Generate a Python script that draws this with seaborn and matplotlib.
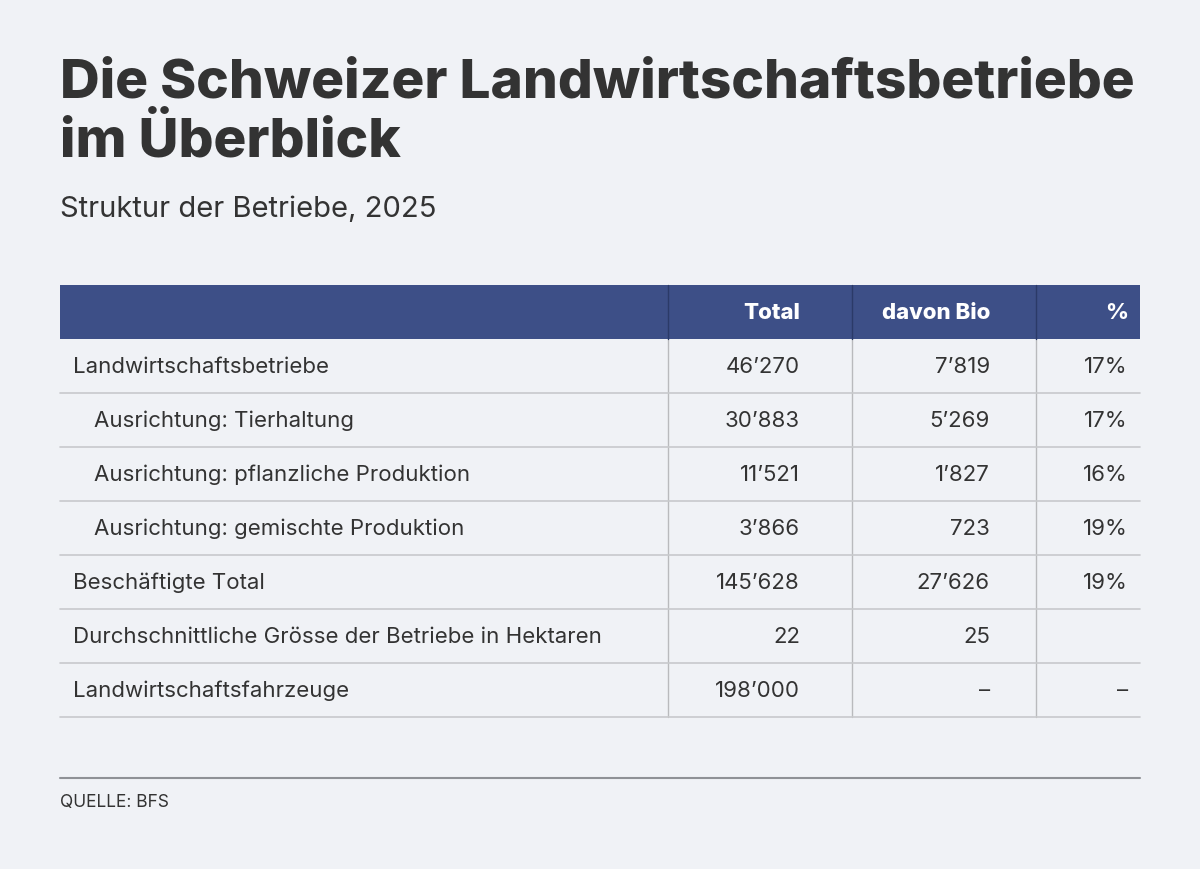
import matplotlib.pyplot as plt
import seaborn as sns
from matplotlib.patches import Rectangle

# table content
row_labels = [
    "Landwirtschaftsbetriebe",
    "Ausrichtung: Tierhaltung",
    "Ausrichtung: pflanzliche Produktion",
    "Ausrichtung: gemischte Produktion",
    "Beschäftigte Total",
    "Durchschnittliche Grösse der Betriebe in Hektaren",
    "Landwirtschaftsfahrzeuge",
]
indented = [False, True, True, True, False, False, False]
col_headers = ["Total", "davon Bio", "%"]
total = ["46’270", "30’883", "11’521", "3’866", "145’628", "22", "198’000"]
bio = ["7’819", "5’269", "1’827", "723", "27’626", "25", "–"]
pct = ["17%", "17%", "16%", "19%", "19%", "", "–"]

BG = "#f0f2f6"
HEAD = "#3d4f87"
TXT = "#333333"

sns.set_theme(style="white")
plt.rcParams['font.family'] = ['Inter', 'DejaVu Sans']

fig = plt.figure(figsize=(12, 8.7), dpi=100, facecolor=BG)
ax = fig.add_axes([0, 0, 1, 1])
ax.set_facecolor(BG)
ax.set_xlim(0, 1200)
ax.set_ylim(870, 0)
ax.axis("off")

# titles
ax.text(60, 84, "Die Schweizer Landwirtschaftsbetriebe", fontsize=39.5, fontweight="heavy",
        color=TXT, va="center", ha="left")
ax.text(60, 142, "im Überblick", fontsize=39.5, fontweight="heavy",
        color=TXT, va="center", ha="left")
ax.text(60, 209, "Struktur der Betriebe, 2025", fontsize=21, color=TXT,
        va="center", ha="left")

# table geometry
left, right = 60, 1140
top, head_h, row_h = 286, 54, 54
col_sep = [668, 852, 1036]
col_right = [800, 990, 1128]
n = len(row_labels)
bottom = top + head_h + n * row_h

ax.add_patch(Rectangle((left, top), right - left, head_h, color=HEAD, lw=0))
for x in col_sep:
    ax.plot([x, x], [top + head_h, bottom], color="#b9babd", lw=1.0)
    ax.plot([x, x], [top, top + head_h], color="#2b3a68", lw=1.0)
for xr, h in zip(col_right, col_headers):
    ax.text(xr, top + head_h / 2, h, fontsize=16, fontweight="heavy", color="white",
            ha="right", va="center")

for i, lab in enumerate(row_labels):
    yc = top + head_h + i * row_h + row_h / 2
    ax.text(94 if indented[i] else 73, yc, lab, fontsize=16, color=TXT,
            ha="left", va="center")
    for xr, vals in zip(col_right, [total, bio, pct]):
        ax.text(xr, yc, vals[i], fontsize=16, color=TXT, ha="right", va="center")
    yb = top + head_h + (i + 1) * row_h
    ax.plot([left, right], [yb, yb], color="#c8c9cc", lw=1.2)

# footer
ax.plot([left, right], [779, 779], color="#8f9196", lw=1.5)
ax.text(60, 803, "QUELLE: BFS", fontsize=12.5, color=TXT, ha="left", va="center")

fig.savefig("out.png", dpi=100, facecolor=BG)
